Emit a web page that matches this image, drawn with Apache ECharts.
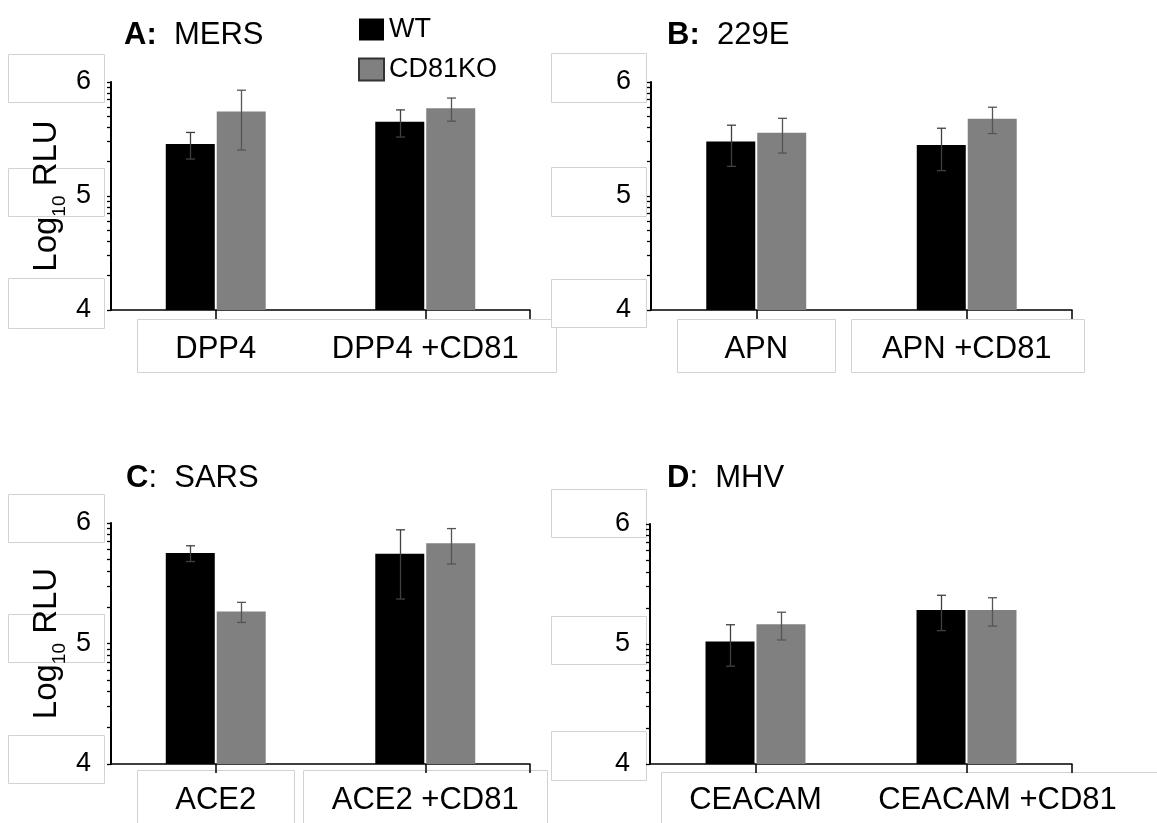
<!DOCTYPE html>
<html><head><meta charset="utf-8">
<script src="https://cdn.jsdelivr.net/npm/echarts@6/dist/echarts.min.js"></script>
<style>html,body{margin:0;padding:0;background:#fff}#c{width:1157px;height:823px}</style>
</head><body><div id="c"></div>
<script>
// ---- data (RLU, linear; axis is log10) ----
const catA = ['DPP4', 'DPP4 +CD81'];
const catB = ['APN', 'APN +CD81'];
const catC = ['ACE2', 'ACE2 +CD81'];
const catD = ['CEACAM', 'CEACAM +CD81'];
const wtA = [286000, 449000];   const wtSdA = [75000, 120000];
const koA = [550000, 588000];   const koSdA = [297000, 135000];
const wtB = [300000, 280000];   const wtSdB = [118000, 113000];
const koB = [359000, 477000];   const koSdB = [121000, 124000];
const wtC = [563000, 556000];   const wtSdC = [84000, 322000];
const koC = [184500, 678000];   const koSdC = [35000, 221000];
const wtD = [105000, 192000];   const wtSdD = [39700, 62700];
const koD = [146000, 192000];   const koSdD = [38000, 51000];
const seriesNames = ['WT', 'CD81KO'];
const panelLetters = ['A', 'B', 'C', 'D'];
const panelViruses = ['MERS', '229E', 'SARS', 'MHV'];
const yMin = 1e4, yMax = 1e6;
const minorTickValues = [];
for (let e = 4; e < 6; e++) for (let k = 1; k < 10; k++) minorTickValues.push(k * Math.pow(10, e));
minorTickValues.push(1e6);

const FONT = 'Liberation Sans';
const panels = [
  {cats: catA, wt: wtA, wtSd: wtSdA, ko: koA, koSd: koSdA, grid: {left: 111, top: 82, width: 419, height: 228}, yName: true, title: [124, 35], colonBold: true, labelMargin: 24},
  {cats: catB, wt: wtB, wtSd: wtSdB, ko: koB, koSd: koSdB, grid: {left: 651, top: 82, width: 421, height: 228}, yName: false, title: [667, 35], colonBold: true, labelMargin: 24},
  {cats: catC, wt: wtC, wtSd: wtSdC, ko: koC, koSd: koSdC, grid: {left: 111, top: 523, width: 419, height: 241}, yName: true, title: [126, 478], colonBold: false, labelMargin: 21},
  {cats: catD, wt: wtD, wtSd: wtSdD, ko: koD, koSd: koSdD, grid: {left: 650, top: 524, width: 422, height: 240}, yName: false, title: [667, 478], colonBold: false, labelMargin: 21, shiftSecond: true}
];

const boxes = [
  [8, 54, 96, 48], [8, 168, 96, 48], [8, 278, 96, 50],
  [137, 319, 419, 53],
  [551, 53, 95, 49], [551, 167, 95, 49], [551, 279, 95, 48],
  [677, 319, 158, 53], [851, 319, 233, 53],
  [8, 494, 96, 48], [8, 614, 96, 48], [8, 735, 96, 48],
  [551, 489, 95, 48], [551, 616, 95, 48], [551, 731, 95, 49],
  [137, 770, 157, 60], [303, 770, 244, 60],
  [661, 772, 500, 60]
];

const grids = [], xAxes = [], yAxes = [], series = [], graphics = [];
boxes.forEach(b => graphics.push({type: 'rect', z: -10, shape: {x: b[0] + 0.5, y: b[1] + 0.5, width: b[2], height: b[3]}, style: {fill: '#fff', stroke: '#d2d2d2', lineWidth: 1}}));

function errSeries(gi, means, sds, side, color) {
  return {
    type: 'custom', name: 'err' + gi + side, xAxisIndex: gi * 2, yAxisIndex: gi, z: 5, silent: true,
    data: means.map((m, i) => [i, m - sds[i], m + sds[i]]),
    encode: {x: 0, y: [1, 2]},
    renderItem(params, api) {
      const i = api.value(0);
      const lo = api.coord([i, api.value(1)]);
      const hi = api.coord([i, api.value(2)]);
      const x = Math.round(lo[0] + side * 25.5) + 0.5;
      const cw = 4.5;
      const st = {stroke: color, lineWidth: 1.3};
      return {type: 'group', children: [
        {type: 'line', shape: {x1: x, y1: hi[1], x2: x, y2: lo[1]}, style: st},
        {type: 'line', shape: {x1: x - cw, y1: hi[1], x2: x + cw, y2: hi[1]}, style: st},
        {type: 'line', shape: {x1: x - cw, y1: lo[1], x2: x + cw, y2: lo[1]}, style: st}
      ]};
    }
  };
}

panels.forEach((p, gi) => {
  grids.push(Object.assign({}, p.grid));
  xAxes.push({
    type: 'category', gridIndex: gi, data: p.cats, position: 'bottom',
    axisLine: {show: true, lineStyle: {color: '#000', width: 1.5}},
    axisTick: {show: false},
    axisLabel: {
      color: '#000', fontSize: 31, fontFamily: FONT, margin: p.labelMargin, interval: 0,
      formatter: (v, i) => (p.shiftSecond && i === 1) ? '{r|' + v + '}' : v,
      rich: {r: {fontSize: 31, fontFamily: FONT, color: '#000', padding: [0, 0, 0, 62]}}
    },
    splitLine: {show: false}
  });
  xAxes.push({
    type: 'value', gridIndex: gi, position: 'bottom', min: 0, max: 4,
    axisLine: {show: false},
    axisTick: {show: true, length: 9, lineStyle: {color: '#000', width: 1.5}, customValues: [1, 3, 4]},
    axisLabel: {show: false}, splitLine: {show: false}
  });
  const y = {
    type: 'log', logBase: 10, gridIndex: gi, min: yMin, max: yMax,
    axisLine: {show: true, lineStyle: {color: '#000', width: 2}},
    axisTick: {show: true, length: 4, lineStyle: {color: '#000', width: 1.3}, customValues: minorTickValues},
    axisLabel: {color: '#000', fontSize: 27, fontFamily: FONT, margin: 20, padding: [0, 0, 6, 0],
      formatter: v => String(Math.round(Math.log10(v)))},
    splitLine: {show: false}
  };
  if (p.yName) {
    Object.assign(y, {
      name: 'Log{s|10} RLU', nameLocation: 'middle', nameRotate: 90, nameGap: 42,
      nameTextStyle: {color: '#000', fontSize: 33, fontFamily: FONT, lineHeight: 44,
        rich: {s: {fontSize: 19, fontFamily: FONT, color: '#000', lineHeight: 19, verticalAlign: 'bottom'}}}
    });
  }
  yAxes.push(y);
  series.push({type: 'bar', name: seriesNames[0], xAxisIndex: gi * 2, yAxisIndex: gi, data: p.wt, barWidth: 49, barGap: '4%', itemStyle: {color: '#000'}, z: 2});
  series.push({type: 'bar', name: seriesNames[1], xAxisIndex: gi * 2, yAxisIndex: gi, data: p.ko, barWidth: 49, barGap: '4%', itemStyle: {color: '#808080'}, z: 2});
  series.push(errSeries(gi, p.wt, p.wtSd, -1, '#404040'));
  series.push(errSeries(gi, p.ko, p.koSd, 1, '#555555'));
  graphics.push({
    type: 'text', z: 10, x: p.title[0], y: p.title[1],
    style: {
      text: p.colonBold ? '{b|' + panelLetters[gi] + ':}  ' + panelViruses[gi] : '{b|' + panelLetters[gi] + '}:  ' + panelViruses[gi],
      fontSize: 31, fontFamily: FONT, fill: '#000', verticalAlign: 'middle', align: 'left',
      rich: {b: {fontSize: 31, fontFamily: FONT, fontWeight: 'bold', fill: '#000'}}
    }
  });
});

const chart = echarts.init(document.getElementById('c'), null, {renderer: 'canvas'});
chart.setOption({
  animation: false,
  backgroundColor: '#fff',
  grid: grids, xAxis: xAxes, yAxis: yAxes, series: series,
  legend: {
    data: [{name: 'WT', itemStyle: {color: '#000'}}, {name: 'CD81KO', itemStyle: {color: '#808080', borderColor: '#333', borderWidth: 2}}],
    orient: 'vertical', left: 353, top: 11, icon: 'rect', itemWidth: 25, itemHeight: 22, itemGap: 13,
    textStyle: {color: '#000', fontSize: 27, fontFamily: FONT}
  },
  graphic: graphics
});
</script></body></html>
